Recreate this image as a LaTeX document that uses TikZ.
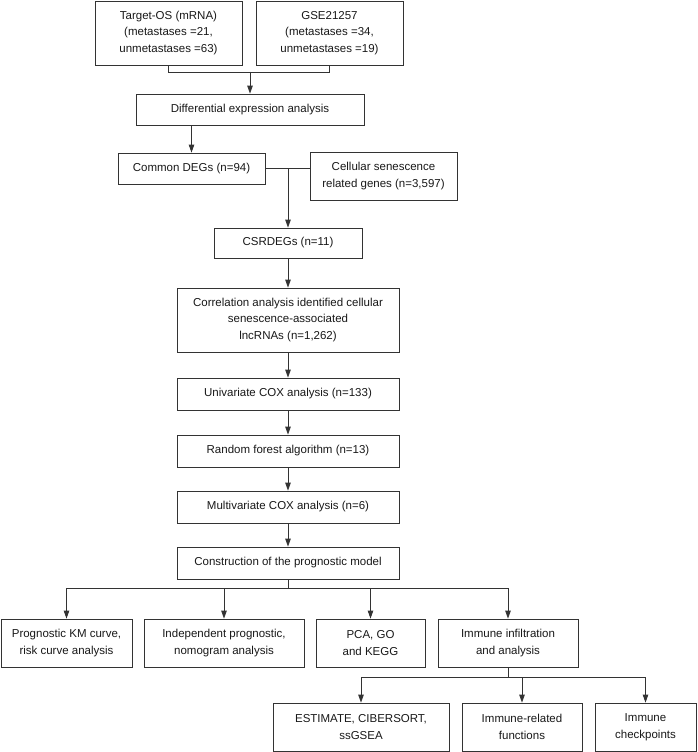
\documentclass[tikz,border=0pt]{standalone}
\usepackage{fontspec}
\setmainfont{Liberation Sans}
\usetikzlibrary{arrows.meta}
\begin{document}
\begin{tikzpicture}[x=1pt,y=-1pt,
  box/.style={draw=black!80, line width=0.8pt, inner sep=0pt, align=center,
    font=\fontsize{11.5}{16.5}\selectfont, text=black!90},
  link/.style={draw=black!80, line width=0.8pt},
  arr/.style={link, -{Triangle[length=8pt,width=5.5pt]}}]
\useasboundingbox (0,0) rectangle (697,752);
\fill[white] (0,0) rectangle (697,752);
% boxes
\node[box, minimum width=147pt, minimum height=64pt] (A) at (168.5,33) {Target-OS (mRNA)\\(metastases =21,\\unmetastases =63)};
\node[box, minimum width=147pt, minimum height=64pt] (B) at (329.5,33) {GSE21257\\(metastases =34,\\unmetastases =19)};
\node[box, minimum width=228pt, minimum height=31pt] (C) at (250,109.5) {Differential expression analysis};
\node[box, minimum width=147pt, minimum height=31pt] (D) at (191.5,168.5) {Common DEGs (n=94)};
\node[box, minimum width=147pt, minimum height=48pt] (E) at (383.5,176) {Cellular senescence\\related genes (n=3,597)};
\node[box, minimum width=148pt, minimum height=30pt] (F) at (288,243) {CSRDEGs (n=11)};
\node[box, minimum width=222pt, minimum height=64pt] (G) at (288,320) {Correlation analysis identified cellular\\senescence-associated\\lncRNAs (n=1,262)};
\node[box, minimum width=222pt, minimum height=32pt] (H) at (288,394) {Univariate COX analysis (n=133)};
\node[box, minimum width=222pt, minimum height=32pt] (I) at (288,451) {Random forest algorithm (n=13)};
\node[box, minimum width=222pt, minimum height=32pt] (J) at (288,507) {Multivariate COX analysis (n=6)};
\node[box, minimum width=222pt, minimum height=32pt] (K) at (288,563) {Construction of the prognostic model};
\node[box, minimum width=131pt, minimum height=48pt] (L1) at (66.5,643) {Prognostic KM curve,\\risk curve analysis};
\node[box, minimum width=160pt, minimum height=48pt] (L2) at (224,643) {Independent prognostic,\\nomogram analysis};
\node[box, minimum width=109pt, minimum height=48pt] (L3) at (370.5,643) {PCA, GO\\and KEGG};
\node[box, minimum width=140pt, minimum height=48pt] (L4) at (508,643) {Immune infiltration\\and analysis};
\node[box, minimum width=176pt, minimum height=48pt] (M1) at (361,727) {ESTIMATE, CIBERSORT,\\ssGSEA};
\node[box, minimum width=120pt, minimum height=48pt] (M2) at (522,727) {Immune-related\\functions};
\node[box, minimum width=101pt, minimum height=48pt] (M3) at (645.5,727) {Immune\\checkpoints};
% coordinates
\coordinate (ab) at (250,72);
\coordinate (kbar) at (288,588);
\coordinate (lbar) at (508,677);
% connectors
\draw[link] (A.south) -- (A.south |- ab) -- (B.south |- ab) -- (B.south);
\draw[arr] (ab) -- (C.north);
\draw[arr] (C.south -| D.north) -- (D.north);
\draw[link] (D.east) -- (D.east -| E.west);
\draw[arr] (D.east -| F.north) -- (F.north);
\draw[arr] (F) -- (G);
\draw[arr] (G) -- (H);
\draw[arr] (H) -- (I);
\draw[arr] (I) -- (J);
\draw[arr] (J) -- (K);
\draw[link] (K.south) -- (kbar);
\draw[link] (L1.north |- kbar) -- (L4.north |- kbar);
\foreach \n in {L1,L2,L3,L4} \draw[arr] (\n.north |- kbar) -- (\n.north);
\draw[link] (L4.south) -- (lbar);
\draw[link] (M1.north |- lbar) -- (M3.north |- lbar);
\foreach \n in {M1,M2,M3} \draw[arr] (\n.north |- lbar) -- (\n.north);
\end{tikzpicture}
\end{document}
